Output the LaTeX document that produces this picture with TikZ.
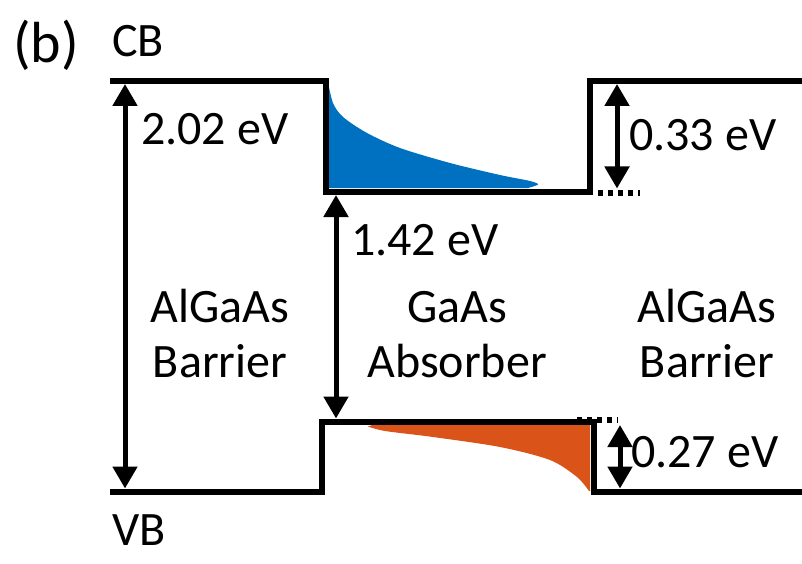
\documentclass[tikz,border=0pt]{standalone}
\usepackage{fontspec}
\setmainfont{Carlito}
\usetikzlibrary{arrows.meta}
\definecolor{cbblue}{RGB}{0,112,192}
\definecolor{vborange}{RGB}{218,84,26}
\begin{document}
\begin{tikzpicture}[x=1pt,y=-1pt,
  band/.style={line width=6pt, line join=miter, line cap=butt},
  dots/.style={line width=6pt, dash pattern=on 5pt off 5pt},
  dim/.style={line width=5pt, {Triangle[length=22pt,width=24pt]}-{Triangle[length=22pt,width=24pt]}},
  lbl/.style={font=\fontsize{48}{58}\selectfont, inner sep=0pt, anchor=base west},
  ctr/.style={font=\fontsize{48}{58}\selectfont, inner sep=0pt, anchor=base}]
\useasboundingbox (0,0) rectangle (802,564);
% carrier distributions
\fill[cbblue] (328,82) -- plot[smooth] coordinates {(328,82)(333,103)(343,117)(367,133)(400,148)(450,163)(500,175)(530,181)(538,184.5)(528,188)} -- (328,188) -- cycle;
\fill[vborange] (590,424) -- (375,424) -- plot[smooth] coordinates {(368,426.5)(385,431)(433,437)(500,447)(550,460)(577,477)(589,491)} -- (590,491) -- cycle;
% band edges
\draw[band] (110,81) -- (326,81) -- (326,191.5) -- (590,191.5) -- (590,81) -- (806,81);
\draw[band] (110,491.5) -- (322,491.5) -- (322,421.5) -- (593.5,421.5) -- (593.5,491.5) -- (806,491.5);
\draw[dots] (598,193) -- (640,193);
\draw[dots] (577,420) -- (618,420);
% arrow end points
\coordinate (aT) at (125,84);
\coordinate (aB) at (125,488.5);
\coordinate (mT) at (336,195);
\coordinate (mB) at (336,418.5);
\coordinate (rT) at (617,84);
\coordinate (rB) at (617,188.5);
\coordinate (sT) at (620,425);
\coordinate (sB) at (620,488.5);
\draw[dim] (aT) -- (aB);
\draw[dim] (mT) -- (mB);
\draw[dim] (rT) -- (rB);
\draw[dim] (sT) -- (sB);
% labels
\node[lbl, font=\fontsize{58}{68}\selectfont] (b) at (13,63) {(b)};
\node[lbl] (cb) at (112,57) {CB};
\node[lbl] (vb) at (112,545) {VB};
\node[lbl] (e202) at (141,145) {2.02 eV};
\node[lbl] (e033) at (629,150) {0.33 eV};
\node[lbl] (e142) at (351,255) {1.42 eV};
\node[lbl] (e027) at (631,467) {0.27 eV};
\node[ctr] (l1) at (220,322) {AlGaAs};
\node[ctr] (l2) at (220,377) {Barrier};
\node[ctr] (m1) at (457,322) {GaAs};
\node[ctr] (m2) at (457,377) {Absorber};
\node[ctr] (r1) at (707,322) {AlGaAs};
\node[ctr] (r2) at (707,377) {Barrier};
\end{tikzpicture}
\end{document}
